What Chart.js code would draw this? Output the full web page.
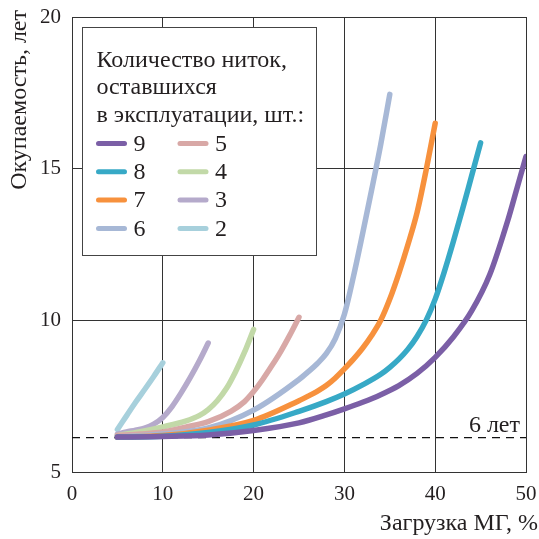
<!DOCTYPE html>
<html>
<head>
<meta charset="utf-8">
<script src="https://cdn.jsdelivr.net/npm/chart.js@4.4.1/dist/chart.umd.min.js"></script>
<style>
  html, body { margin: 0; padding: 0; background: #fff; }
  #wrap { width: 539px; height: 539px; }
</style>
</head>
<body>
<div id="wrap"><canvas id="chartPayback" width="539" height="539"></canvas></div>
<script>
var threadCounts = ['9', '8', '7', '6', '5', '4', '3', '2'];
var lineColors = ['#7b5fa6', '#37a9c6', '#f7913d', '#a7b8d6', '#d8a8a6', '#c2d9a8', '#b5aacb', '#a7d0dc'];

var load9 = [5, 10, 15, 20, 25, 28, 30, 32, 34, 36, 38, 40, 42, 44, 46, 48, 49, 50];
var payback9 = [6.15, 6.17, 6.22, 6.37, 6.62, 6.88, 7.08, 7.3, 7.55, 7.85, 8.25, 8.78, 9.45, 10.3, 11.5, 13.3, 14.35, 15.4];

var load8 = [5, 10, 15, 20, 25, 28, 30, 32, 34, 35, 36, 37, 38, 39, 40, 41, 42, 43, 44, 45];
var payback8 = [6.15, 6.18, 6.3, 6.55, 7.0, 7.32, 7.57, 7.87, 8.22, 8.45, 8.72, 9.05, 9.47, 10.0, 10.7, 11.6, 12.6, 13.65, 14.75, 15.85];

var load7 = [5, 10, 15, 20, 25, 26, 27, 28, 29, 30, 31, 32, 33, 34, 35, 36, 37, 38, 39, 40];
var payback7 = [6.15, 6.2, 6.38, 6.7, 7.35, 7.5, 7.66, 7.85, 8.1, 8.4, 8.72, 9.08, 9.5, 10.0, 10.7, 11.55, 12.5, 13.55, 14.95, 16.5];

var load6 = [5, 10, 15, 20, 25, 26, 27, 28, 29, 30, 31, 32, 33, 34, 35];
var payback6 = [6.15, 6.25, 6.45, 7.04, 8.05, 8.3, 8.57, 8.9, 9.4, 10.2, 11.45, 12.85, 14.3, 15.8, 17.45];

var load5 = [5, 7.5, 10, 12.5, 15, 17.5, 19, 20, 21, 22, 23, 24, 25];
var payback5 = [6.2, 6.25, 6.32, 6.48, 6.66, 7.0, 7.32, 7.65, 8.05, 8.5, 8.98, 9.52, 10.1];

var load4 = [5, 7.5, 10, 12.5, 14, 15, 16, 17, 18, 19, 20];
var payback4 = [6.2, 6.33, 6.49, 6.68, 6.86, 7.06, 7.35, 7.75, 8.3, 8.95, 9.7];

var load3 = [5, 6, 7, 8, 9, 10, 11, 12, 13, 14, 15];
var payback3 = [6.25, 6.32, 6.38, 6.45, 6.58, 6.8, 7.15, 7.6, 8.1, 8.65, 9.25];

var load2 = [5, 6, 7, 8, 9, 10];
var payback2 = [6.4, 6.85, 7.3, 7.72, 8.15, 8.6];

var xTicks = [0, 10, 20, 30, 40, 50];
var yTicks = [5, 10, 15, 20];
var thresholdValue = 6.13;
var thresholdLabel = '6 лет';

var legendTitle = ['Количество ниток,', 'оставшихся', 'в эксплуатации, шт.:'];
var xTitle = 'Загрузка МГ, %';
var yTitle = 'Окупаемость, лет';

var allLoads = [load9, load8, load7, load6, load5, load4, load3, load2];
var allPaybacks = [payback9, payback8, payback7, payback6, payback5, payback4, payback3, payback2];

var serif = "'Liberation Serif', 'Times New Roman', Times, serif";
var textColor = '#231f20';

function toPoints(xs, ys) {
    var pts = [];
    for (var i = 0; i < xs.length; i++) {
        pts.push({ x: xs[i], y: ys[i] });
    }
    return pts;
}

var datasets = [];
for (var i = 0; i < threadCounts.length; i++) {
    datasets.push({
        label: threadCounts[i],
        data: toPoints(allLoads[i], allPaybacks[i]),
        borderColor: lineColors[i],
        backgroundColor: lineColors[i],
        borderWidth: 5.5,
        borderCapStyle: 'round',
        borderJoinStyle: 'round',
        pointRadius: 0,
        cubicInterpolationMode: 'monotone',
        fill: false
    });
}
// Пунктирная линия порога окупаемости
datasets.push({
    label: 'threshold',
    data: toPoints([xTicks[0], xTicks[xTicks.length - 1]], [thresholdValue, thresholdValue]),
    borderColor: '#111',
    borderWidth: 1.2,
    borderDash: [8, 6],
    pointRadius: 0,
    fill: false
});

// Подписи осей, легенда-врезка и подпись порога
var overlayPlugin = {
    id: 'overlay',
    afterDatasetsDraw: function (chart) {
        var ctx = chart.ctx;
        var xs = chart.scales.x;
        var ys = chart.scales.y;
        ctx.save();

        // подпись "6 лет"
        ctx.fillStyle = textColor;
        ctx.font = '24px ' + serif;
        ctx.textAlign = 'right';
        ctx.textBaseline = 'alphabetic';
        ctx.fillText(thresholdLabel, xs.getPixelForValue(xTicks[xTicks.length - 1]) - 6, ys.getPixelForValue(thresholdValue) - 6);

        // врезка-легенда
        var bx = 82.5, by = 27.5, bw = 234, bh = 228;
        ctx.fillStyle = '#fff';
        ctx.fillRect(bx, by, bw, bh);
        ctx.strokeStyle = '#444';
        ctx.lineWidth = 1;
        ctx.strokeRect(bx, by, bw, bh);

        ctx.fillStyle = textColor;
        ctx.font = '24px ' + serif;
        ctx.textAlign = 'left';
        ctx.textBaseline = 'alphabetic';
        for (var t = 0; t < legendTitle.length; t++) {
            ctx.fillText(legendTitle[t], 96.5, 66.5 + t * 27.5);
        }

        var items = chart.data.datasets.slice(0, threadCounts.length);
        ctx.textBaseline = 'middle';
        for (var k = 0; k < items.length; k++) {
            var col = Math.floor(k / 4);
            var row = k % 4;
            var lx = col === 0 ? 98.5 : 180;
            var ly = 143.5 + row * 28.3;
            ctx.strokeStyle = items[k].borderColor;
            ctx.lineWidth = 5;
            ctx.lineCap = 'round';
            ctx.beginPath();
            ctx.moveTo(lx, ly);
            ctx.lineTo(lx + 26, ly);
            ctx.stroke();
            ctx.fillStyle = textColor;
            ctx.fillText(items[k].label, lx + 35, ly + 1);
        }

        // подписи осей
        ctx.font = '24px ' + serif;
        ctx.fillStyle = textColor;
        ctx.textAlign = 'right';
        ctx.textBaseline = 'alphabetic';
        ctx.fillText(xTitle, 538, 530);

        ctx.translate(26, 10);
        ctx.rotate(-Math.PI / 2);
        ctx.textAlign = 'right';
        ctx.textBaseline = 'alphabetic';
        ctx.fillText(yTitle, 0, 0);

        ctx.restore();
    }
};

var ctx = document.getElementById('chartPayback');
var chart = new Chart(ctx.getContext('2d'), {
    type: 'line',
    data: { datasets: datasets },
    options: {
        responsive: false,
        animation: false,
        devicePixelRatio: 1,
        layout: { padding: { left: 0, right: 13, top: 17, bottom: 0 } },
        plugins: {
            legend: { display: false },
            tooltip: { enabled: false }
        },
        scales: {
            x: {
                type: 'linear',
                min: xTicks[0],
                max: xTicks[xTicks.length - 1],
                afterFit: function (scale) {
                    scale.height = 67;
                    scale.paddingLeft = 0;
                    scale.paddingRight = 0;
                },
                afterBuildTicks: function (scale) {
                    scale.ticks = xTicks.map(function (v) { return { value: v }; });
                },
                grid: { color: '#333', lineWidth: 1, drawTicks: false },
                border: { color: '#333', width: 1 },
                ticks: {
                    padding: 10,
                    color: textColor,
                    font: { family: serif, size: 21 },
                    maxRotation: 0
                }
            },
            y: {
                type: 'linear',
                min: yTicks[0],
                max: yTicks[yTicks.length - 1],
                afterFit: function (scale) {
                    scale.width = 72;
                    scale.paddingTop = 0;
                    scale.paddingBottom = 0;
                },
                afterBuildTicks: function (scale) {
                    scale.ticks = yTicks.map(function (v) { return { value: v }; });
                },
                grid: { color: '#333', lineWidth: 1, drawTicks: false },
                border: { color: '#333', width: 1 },
                ticks: {
                    padding: 11,
                    color: textColor,
                    font: { family: serif, size: 21 }
                }
            }
        }
    },
    plugins: [overlayPlugin]
});
</script>
</body>
</html>
